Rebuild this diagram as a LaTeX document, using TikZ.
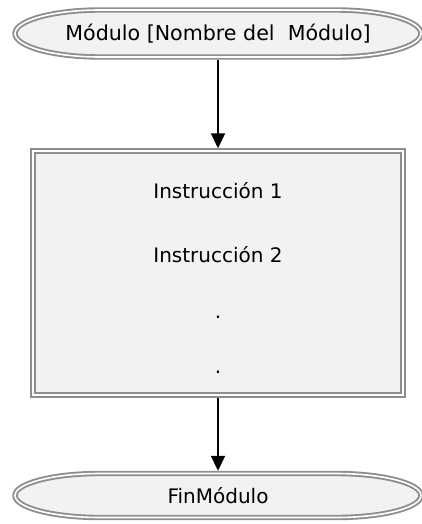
\documentclass[tikz,border=0pt]{standalone}
\usepackage{fontspec}
\setmainfont{DejaVu Sans}
\usetikzlibrary{arrows.meta, positioning, backgrounds}

\definecolor{borde}{HTML}{8E8E8E}
\definecolor{relleno}{HTML}{F2F2F2}

% contorno de terminal: recta arriba y abajo, extremos elipticos
\newcommand{\terminalpath}[3]{%
  \begin{pgfonlayer}{background}
  \path[doble, fill=relleno] ([xshift=#2]#1.north west) -- ([xshift=-#2]#1.north east)
    arc[start angle=90, end angle=-90, x radius=#2, y radius=#3]
    -- ([xshift=#2]#1.south west)
    arc[start angle=270, end angle=90, x radius=#2, y radius=#3] -- cycle;
  \end{pgfonlayer}}

\begin{document}
\begin{tikzpicture}[x=1pt, y=-1pt, >={Triangle[length=15pt, width=14pt]},
  font=\fontsize{20}{24}\selectfont,
  doble/.style={draw=borde, line width=1.9pt, double=white, double distance=1.6pt},
  terminal/.style={rectangle, minimum width=406pt, minimum height=#1, inner sep=0pt,
    outer sep=0pt, text height=15pt, text depth=0pt},
  flecha/.style={->, line width=2pt, shorten <=2.7pt, shorten >=2.7pt}]
\useasboundingbox (0,0) rectangle (422,524);

% cuerpo del modulo
\node (caja) [rectangle, doble, fill=relleno, minimum width=370pt, minimum height=244pt,
  outer sep=0pt] at (218,273) {};
\node (ins1) [anchor=base] at (218,198) {Instrucción 1};
\node (ins2) [anchor=base] at (218,262) {Instrucción 2};
\node (pto1) [anchor=base] at (218,318) {.};
\node (pto2) [anchor=base] at (218,373) {.};

% inicio y fin
\node (ini) [terminal=47pt, font=\fontsize{20.6}{24}\selectfont] at (218,33.5)
  {Módulo [Nombre del\ \ Módulo]};
\terminalpath{ini}{85pt}{23.5pt}
\node (fin) [terminal=44pt] at (218,495.5) {FinMódulo};
\terminalpath{fin}{85pt}{22pt}

\draw[flecha] (ini.south) -- (caja.north);
\draw[flecha] (caja.south) -- (fin.north);
\end{tikzpicture}
\end{document}
